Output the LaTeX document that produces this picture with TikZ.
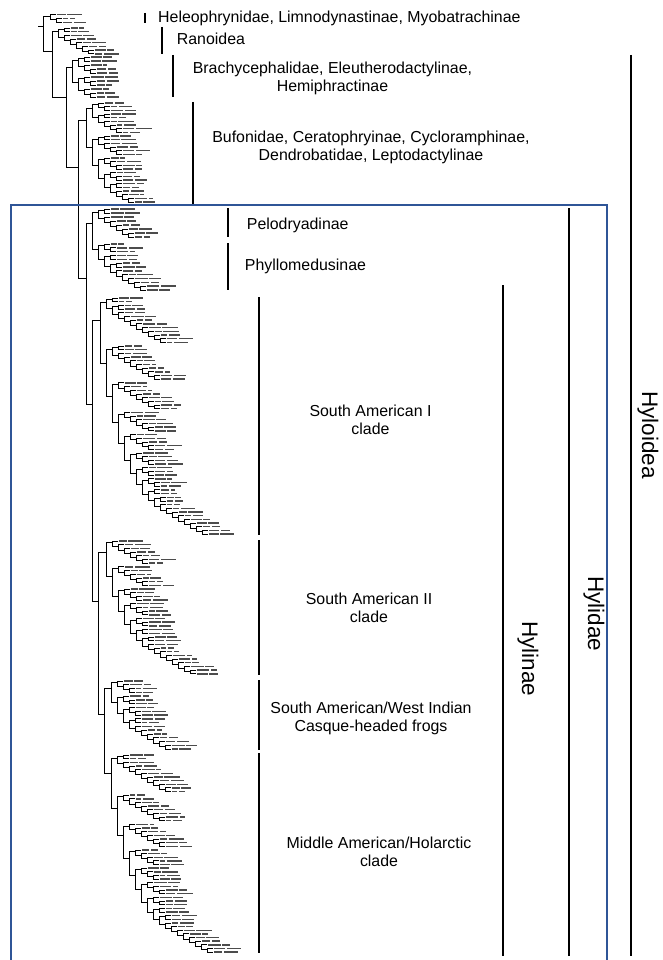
\documentclass[tikz,border=0pt]{standalone}
\usepackage{fontspec}
\setmainfont{Liberation Sans}
\usetikzlibrary{calc}

\newcommand\wt{0.3}
\newcommand\leafy{0}
\newcommand\leafstep{4}
\newcommand\cladex{0}
\newcommand\cladey{0}
\newcommand\treeleaves[2]{\xdef\leafy{#1}\xdef\leafstep{#2}}
\newcommand\treetip[1]{%
	\pgfmathsetmacro\wa{5+8*rnd}%
	\pgfmathsetmacro\wb{4+12*rnd}%
	\fill[tipmark] (#1+1,\leafy-0.7) rectangle ++(\wa,1.4);
	\fill[tipmark] (#1+2.5+\wa,\leafy-0.7) rectangle ++(\wb,1.4);
	\xdef\cladex{#1}\xdef\cladey{\leafy}%
	\pgfmathsetmacro\newy{\leafy+\leafstep}\xdef\leafy{\newy}}
\newcommand\treepair[3]{%
	\begingroup
	#2\let\ytop\cladey\let\xtop\cladex
	#3\let\ybot\cladey\let\xbot\cladex
	\draw[branch] (\xtop,\ytop) -- (#1,\ytop) -- (#1,\ybot) -- (\xbot,\ybot);
	\pgfmathsetmacro\ynode{\ytop+\wt*(\ybot-\ytop)}%
	\xdef\cladey{\ynode}\xdef\cladex{#1}%
	\endgroup}
\newcommand\treeclade[3]{%
	\begingroup
	\edef\here{#1}\edef\ntips{#2}%
	\ifnum\ntips<2
		\treetip{\here}%
	\else
		\pgfmathtruncatemacro\nt{max(1,\ntips/#3)}%
		\pgfmathtruncatemacro\nb{\ntips-\nt}%
		\pgfmathsetmacro\cx{\here+6}%
		\treepair{\here}{\treeclade{\cx}{\nt}{#3}}{\treeclade{\cx}{\nb}{#3}}%
	\fi
	\endgroup}

\begin{document}
\begin{tikzpicture}[x=1pt, y=-1pt, line width=.8pt,
	branch/.style={line width=.8pt},
	tipmark/.style={black!70},
	bar/.style={line width=2pt},
	bluebox/.style={draw={rgb,255:red,47;green,85;blue,151}, line width=2pt},
	taxon/.style={font=\fontsize{15.9}{18}\selectfont, align=center, inner sep=0pt},
	rank/.style={font=\fontsize{22.5}{26}\selectfont, rotate=-90, anchor=base, inner sep=0pt}]
	\useasboundingbox (0,0) rectangle (662,960);
	\pgfmathsetseed{5}
	\treepair{43}{\treeleaves{14.5}{4}\treeclade{50}{3}{2}}{%
		\treepair{52}{\treeleaves{28}{3.7}\treeclade{58}{8}{4}}{%
			\treepair{66}{\treeleaves{57}{4}\treeclade{72}{11}{2}}{%
				\treepair{78}{\treeleaves{103}{3.67}\treeclade{86}{28}{3}}{%
					\treepair{86}{\treepair{92}{\treeleaves{209}{4}\treeclade{98}{8}{4}}{\treeleaves{244}{3.83}\treeclade{98}{13}{4}}}{%
						\treepair{92}{\treeleaves{298}{3.69}\treeclade{100}{65}{5}}{%
							\treepair{98}{\treeleaves{541}{3.69}\treeclade{106}{37}{5}}{%
								\treepair{104}{\treeleaves{681}{3.78}\treeclade{111}{19}{4}}{\treeleaves{755}{3.65}\treeclade{111}{55}{5}}}}}}}}}
	\coordinate (root) at (\cladex,\cladey);
	\draw[branch] (root) -- ++(-5,0);
	\draw[bar] (144.7,13) -- (144.7,23);
	\draw[bar] (162,27) -- (162,54);
	\draw[bar] (173,55) -- (173,97);
	\draw[bar] (193,102) -- (193,204);
	\draw[bar] (228,208) -- (228,237);
	\draw[bar] (228,243) -- (228,290);
	\draw[bar] (259,297) -- (259,535);
	\draw[bar] (259,540) -- (259,675);
	\draw[bar] (259,680) -- (259,750);
	\draw[bar] (259,753) -- (259,953);
	\draw[bar] (503,285) -- (503,956);
	\draw[bar] (569,208) -- (569,956);
	\draw[bar] (631,55) -- (631,956);
	\draw[bluebox] (11,963) -- (11,205) -- (607,205) -- (607,963);
	\node[taxon, anchor=base west] (heleo) at (157.8,22.8) {Heleophrynidae, Limnodynastinae, Myobatrachinae};
	\node[taxon, anchor=base west] (rano) at (176.5,44.7) {Ranoidea};
	\node[taxon] (brachy) at (332.5,78.5) {Brachycephalidae, Eleutherodactylinae,\\Hemiphractinae};
	\node[taxon] (bufo) at (371,147.5) {Bufonidae, Ceratophryinae, Cycloramphinae,\\Dendrobatidae, Leptodactylinae};
	\node[taxon, anchor=base west] (pelo) at (246.5,229) {Pelodryadinae};
	\node[taxon, anchor=base west] (phyllo) at (244.5,270) {Phyllomedusinae};
	\node[taxon] (saone) at (370.5,420) {South American I\\clade};
	\node[taxon] (satwo) at (369,608) {South American II\\clade};
	\node[taxon] (casque) at (371,718.5) {South American/West Indian\\Casque-headed frogs};
	\node[taxon] (midam) at (379,852) {Middle American/Holarctic\\clade};
	\node[rank] (hylinae) at (522,659) {Hylinae};
	\node[rank] (hylidae) at (588,614) {Hylidae};
	\node[rank] (hyloidea) at (642,435) {Hyloidea};
\end{tikzpicture}
\end{document}
